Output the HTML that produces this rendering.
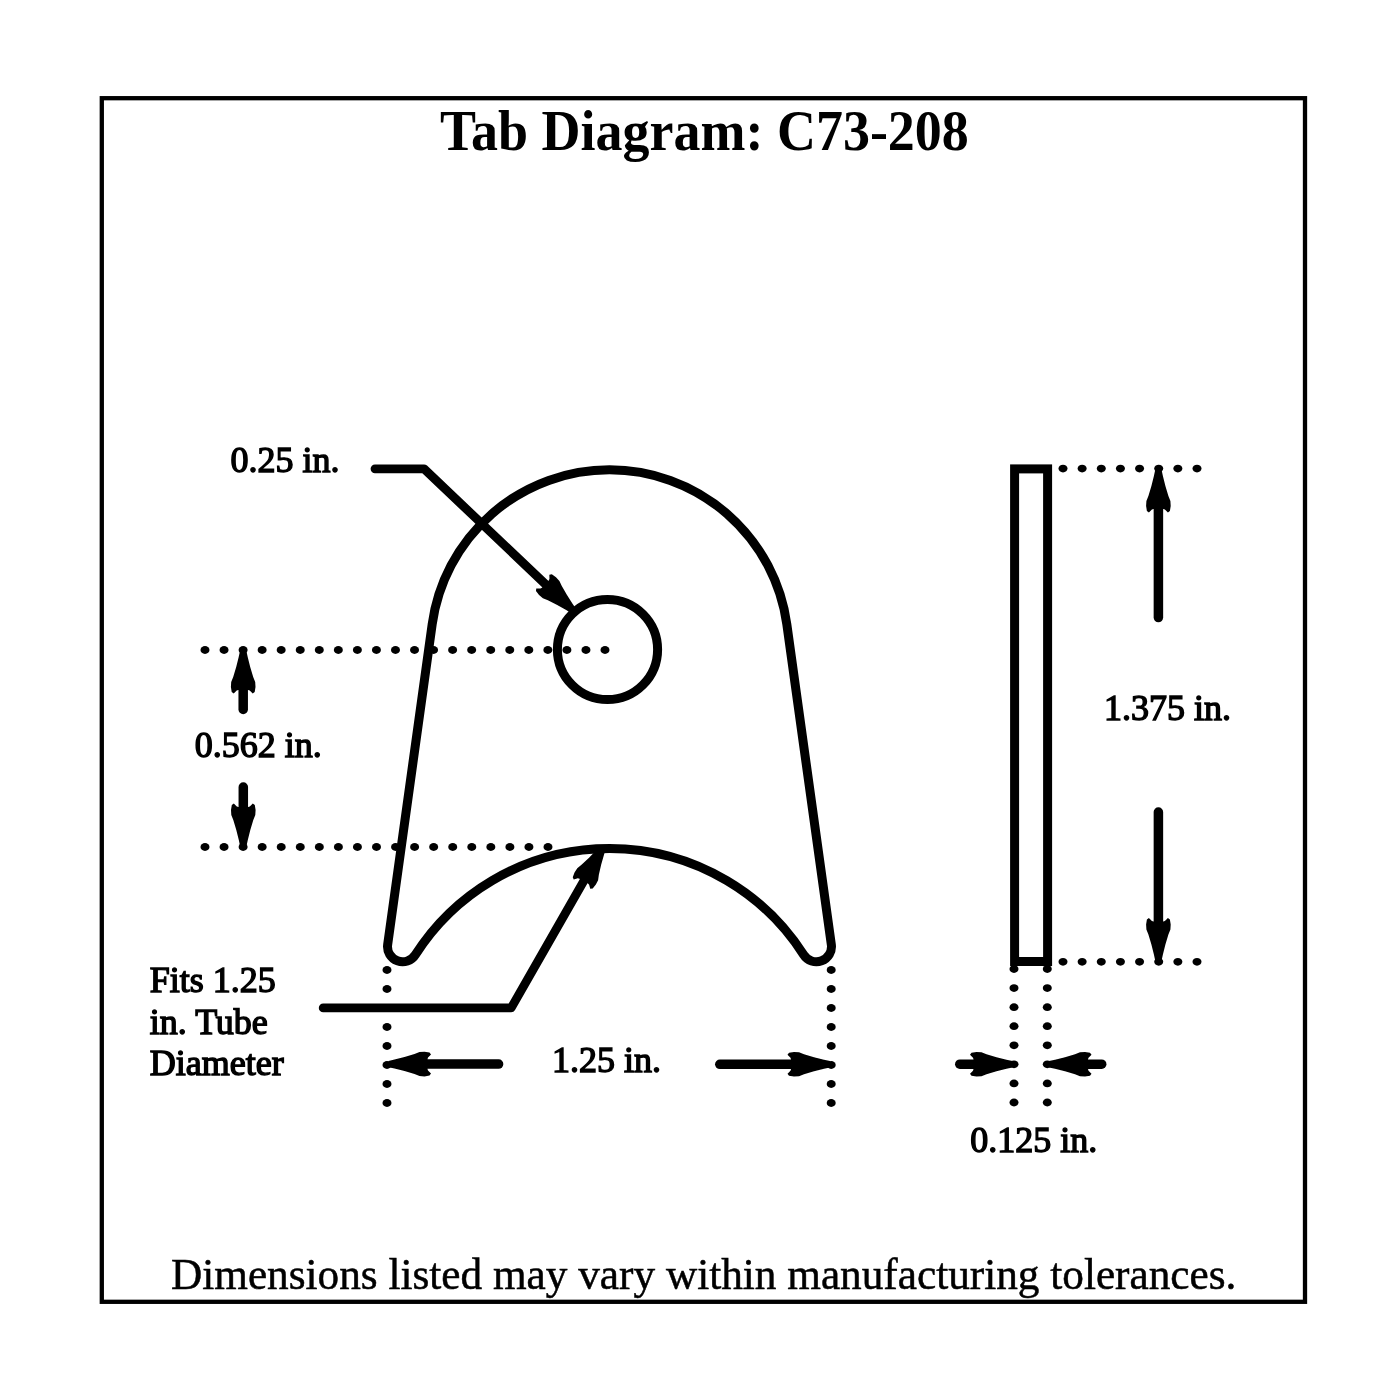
<!DOCTYPE html>
<html><head><meta charset="utf-8"><style>
html,body{margin:0;padding:0;background:#fff;}
svg{display:block;will-change:transform;}
.ol{fill:none;stroke:#000;stroke-width:9;}
.dot{fill:none;stroke:#000;stroke-width:7.5;stroke-linecap:round;}
.sh{stroke:#000;stroke-width:9.5;stroke-linecap:round;}
.ld{fill:none;stroke:#000;stroke-width:8.8;stroke-linecap:round;stroke-linejoin:round;}
text{font-family:"Liberation Serif",serif;fill:#000;}
.n{stroke:#000;stroke-width:1.4;}
.f{stroke:#000;stroke-width:0.5;}
</style></head><body>
<svg width="1400" height="1400" viewBox="0 0 1400 1400">
<defs><path id="ah" d="M3.2 0 L4.5 6 L7 16 L10 26 L12 31 L12.3 36 L11.5 41 L9.5 42.5 L6.5 39.5 L4.9 39 L-4.9 39 L-6.5 39.5 L-9.5 42.5 L-11.5 41 L-12.3 36 L-12 31 L-10 26 L-7 16 L-4.5 6 L-3.2 0 Z" fill="#000"/></defs>
<rect x="101.8" y="98.2" width="1203.2" height="1203.6" fill="none" stroke="#000" stroke-width="4.3"/>
<path d="M432.20 624.16 A179 179 0 0 1 786.80 624.16 L831.33 944.52 A15.10 15.10 0 0 1 803.64 954.73 A230.4 230.4 0 0 0 415.36 954.73 A15.10 15.10 0 0 1 387.67 944.52 Z" class="ol"/>
<circle cx="607.5" cy="649.5" r="50.1" class="ol"/>
<rect x="1014.6" y="468.9" width="33" height="492.6" class="ol"/>
<ellipse cx="205.00" cy="650.00" rx="4.5" ry="3.9"/><ellipse cx="224.05" cy="650.00" rx="4.5" ry="3.9"/><ellipse cx="243.10" cy="650.00" rx="4.5" ry="3.9"/><ellipse cx="262.14" cy="650.00" rx="4.5" ry="3.9"/><ellipse cx="281.19" cy="650.00" rx="4.5" ry="3.9"/><ellipse cx="300.24" cy="650.00" rx="4.5" ry="3.9"/><ellipse cx="319.29" cy="650.00" rx="4.5" ry="3.9"/><ellipse cx="338.33" cy="650.00" rx="4.5" ry="3.9"/><ellipse cx="357.38" cy="650.00" rx="4.5" ry="3.9"/><ellipse cx="376.43" cy="650.00" rx="4.5" ry="3.9"/><ellipse cx="395.48" cy="650.00" rx="4.5" ry="3.9"/><ellipse cx="414.52" cy="650.00" rx="4.5" ry="3.9"/><ellipse cx="433.57" cy="650.00" rx="4.5" ry="3.9"/><ellipse cx="452.62" cy="650.00" rx="4.5" ry="3.9"/><ellipse cx="471.67" cy="650.00" rx="4.5" ry="3.9"/><ellipse cx="490.71" cy="650.00" rx="4.5" ry="3.9"/><ellipse cx="509.76" cy="650.00" rx="4.5" ry="3.9"/><ellipse cx="528.81" cy="650.00" rx="4.5" ry="3.9"/><ellipse cx="547.86" cy="650.00" rx="4.5" ry="3.9"/><ellipse cx="566.90" cy="650.00" rx="4.5" ry="3.9"/><ellipse cx="585.95" cy="650.00" rx="4.5" ry="3.9"/><ellipse cx="605.00" cy="650.00" rx="4.5" ry="3.9"/>
<ellipse cx="205.00" cy="847.00" rx="4.5" ry="3.9"/><ellipse cx="224.06" cy="847.00" rx="4.5" ry="3.9"/><ellipse cx="243.11" cy="847.00" rx="4.5" ry="3.9"/><ellipse cx="262.17" cy="847.00" rx="4.5" ry="3.9"/><ellipse cx="281.22" cy="847.00" rx="4.5" ry="3.9"/><ellipse cx="300.28" cy="847.00" rx="4.5" ry="3.9"/><ellipse cx="319.33" cy="847.00" rx="4.5" ry="3.9"/><ellipse cx="338.39" cy="847.00" rx="4.5" ry="3.9"/><ellipse cx="357.44" cy="847.00" rx="4.5" ry="3.9"/><ellipse cx="376.50" cy="847.00" rx="4.5" ry="3.9"/><ellipse cx="395.56" cy="847.00" rx="4.5" ry="3.9"/><ellipse cx="414.61" cy="847.00" rx="4.5" ry="3.9"/><ellipse cx="433.67" cy="847.00" rx="4.5" ry="3.9"/><ellipse cx="452.72" cy="847.00" rx="4.5" ry="3.9"/><ellipse cx="471.78" cy="847.00" rx="4.5" ry="3.9"/><ellipse cx="490.83" cy="847.00" rx="4.5" ry="3.9"/><ellipse cx="509.89" cy="847.00" rx="4.5" ry="3.9"/><ellipse cx="528.94" cy="847.00" rx="4.5" ry="3.9"/><ellipse cx="548.00" cy="847.00" rx="4.5" ry="3.9"/>
<ellipse cx="1063.00" cy="468.60" rx="4.5" ry="3.9"/><ellipse cx="1082.14" cy="468.60" rx="4.5" ry="3.9"/><ellipse cx="1101.29" cy="468.60" rx="4.5" ry="3.9"/><ellipse cx="1120.43" cy="468.60" rx="4.5" ry="3.9"/><ellipse cx="1139.57" cy="468.60" rx="4.5" ry="3.9"/><ellipse cx="1158.71" cy="468.60" rx="4.5" ry="3.9"/><ellipse cx="1177.86" cy="468.60" rx="4.5" ry="3.9"/><ellipse cx="1197.00" cy="468.60" rx="4.5" ry="3.9"/>
<ellipse cx="1063.00" cy="961.80" rx="4.5" ry="3.9"/><ellipse cx="1082.14" cy="961.80" rx="4.5" ry="3.9"/><ellipse cx="1101.29" cy="961.80" rx="4.5" ry="3.9"/><ellipse cx="1120.43" cy="961.80" rx="4.5" ry="3.9"/><ellipse cx="1139.57" cy="961.80" rx="4.5" ry="3.9"/><ellipse cx="1158.71" cy="961.80" rx="4.5" ry="3.9"/><ellipse cx="1177.86" cy="961.80" rx="4.5" ry="3.9"/><ellipse cx="1197.00" cy="961.80" rx="4.5" ry="3.9"/>
<ellipse cx="387.00" cy="970.00" rx="4.5" ry="3.9"/><ellipse cx="387.00" cy="989.00" rx="4.5" ry="3.9"/><ellipse cx="387.00" cy="1008.00" rx="4.5" ry="3.9"/><ellipse cx="387.00" cy="1027.00" rx="4.5" ry="3.9"/><ellipse cx="387.00" cy="1046.00" rx="4.5" ry="3.9"/><ellipse cx="387.00" cy="1065.00" rx="4.5" ry="3.9"/><ellipse cx="387.00" cy="1084.00" rx="4.5" ry="3.9"/><ellipse cx="387.00" cy="1103.00" rx="4.5" ry="3.9"/>
<ellipse cx="831.20" cy="970.00" rx="4.5" ry="3.9"/><ellipse cx="831.20" cy="989.00" rx="4.5" ry="3.9"/><ellipse cx="831.20" cy="1008.00" rx="4.5" ry="3.9"/><ellipse cx="831.20" cy="1027.00" rx="4.5" ry="3.9"/><ellipse cx="831.20" cy="1046.00" rx="4.5" ry="3.9"/><ellipse cx="831.20" cy="1065.00" rx="4.5" ry="3.9"/><ellipse cx="831.20" cy="1084.00" rx="4.5" ry="3.9"/><ellipse cx="831.20" cy="1103.00" rx="4.5" ry="3.9"/>
<ellipse cx="1014.00" cy="969.00" rx="4.5" ry="3.9"/><ellipse cx="1014.00" cy="988.07" rx="4.5" ry="3.9"/><ellipse cx="1014.00" cy="1007.14" rx="4.5" ry="3.9"/><ellipse cx="1014.00" cy="1026.21" rx="4.5" ry="3.9"/><ellipse cx="1014.00" cy="1045.29" rx="4.5" ry="3.9"/><ellipse cx="1014.00" cy="1064.36" rx="4.5" ry="3.9"/><ellipse cx="1014.00" cy="1083.43" rx="4.5" ry="3.9"/><ellipse cx="1014.00" cy="1102.50" rx="4.5" ry="3.9"/>
<ellipse cx="1047.30" cy="969.00" rx="4.5" ry="3.9"/><ellipse cx="1047.30" cy="988.07" rx="4.5" ry="3.9"/><ellipse cx="1047.30" cy="1007.14" rx="4.5" ry="3.9"/><ellipse cx="1047.30" cy="1026.21" rx="4.5" ry="3.9"/><ellipse cx="1047.30" cy="1045.29" rx="4.5" ry="3.9"/><ellipse cx="1047.30" cy="1064.36" rx="4.5" ry="3.9"/><ellipse cx="1047.30" cy="1083.43" rx="4.5" ry="3.9"/><ellipse cx="1047.30" cy="1102.50" rx="4.5" ry="3.9"/>
<g transform="translate(243.2 651) rotate(0.000)"><line x1="0" y1="30" x2="0" y2="58.50" class="sh"/><use href="#ah"/></g>
<g transform="translate(243.3 846) rotate(-180.000)"><line x1="0" y1="30" x2="0" y2="59.00" class="sh"/><use href="#ah"/></g>
<g transform="translate(388.5 1064.1) rotate(-90.000)"><line x1="0" y1="30" x2="0" y2="110.10" class="sh"/><use href="#ah"/></g>
<g transform="translate(830 1064.3) rotate(90.000)"><line x1="0" y1="30" x2="0" y2="110.20" class="sh"/><use href="#ah"/></g>
<g transform="translate(1158.4 470) rotate(0.000)"><line x1="0" y1="30" x2="0" y2="147.60" class="sh"/><use href="#ah"/></g>
<g transform="translate(1158.4 960.5) rotate(-180.000)"><line x1="0" y1="30" x2="0" y2="148.50" class="sh"/><use href="#ah"/></g>
<g transform="translate(1012.5 1064.2) rotate(90.000)"><line x1="0" y1="30" x2="0" y2="52.70" class="sh"/><use href="#ah"/></g>
<g transform="translate(1049 1064.2) rotate(-90.000)"><line x1="0" y1="30" x2="0" y2="52.70" class="sh"/><use href="#ah"/></g>
<path d="M375 468.8 L424 468.8 L549.70 588.22" class="ld"/><g transform="translate(573.62 610.94) rotate(-226.469)"><use href="#ah"/></g>
<path d="M323.2 1007.9 L511.2 1007.9 L586.70 875.91" class="ld"/><g transform="translate(603.08 847.26) rotate(29.769)"><use href="#ah"/></g>
<text transform="translate(440 149.6) scale(0.964 1)" x="0" y="0" font-size="56" font-weight="bold">Tab Diagram: C73-208</text>
<text class="n" x="230.6" y="472.1" font-size="36">0.25 in.</text>
<text class="n" x="194.8" y="757.3" font-size="36">0.562 in.</text>
<text class="n" x="149.8" y="992.3" font-size="36">Fits 1.25</text>
<text class="n" x="149.8" y="1034.0" font-size="36">in. Tube</text>
<text class="n" x="149.8" y="1075.2" font-size="36">Diameter</text>
<text class="n" x="552" y="1071.7" font-size="36">1.25 in.</text>
<text class="n" x="1104.1" y="720.3" font-size="36">1.375 in.</text>
<text class="n" x="970.3" y="1152.3" font-size="36">0.125 in.</text>
<text class="f" x="171" y="1288.5" font-size="43.25">Dimensions listed may vary within manufacturing tolerances.</text>
</svg>
</body></html>
